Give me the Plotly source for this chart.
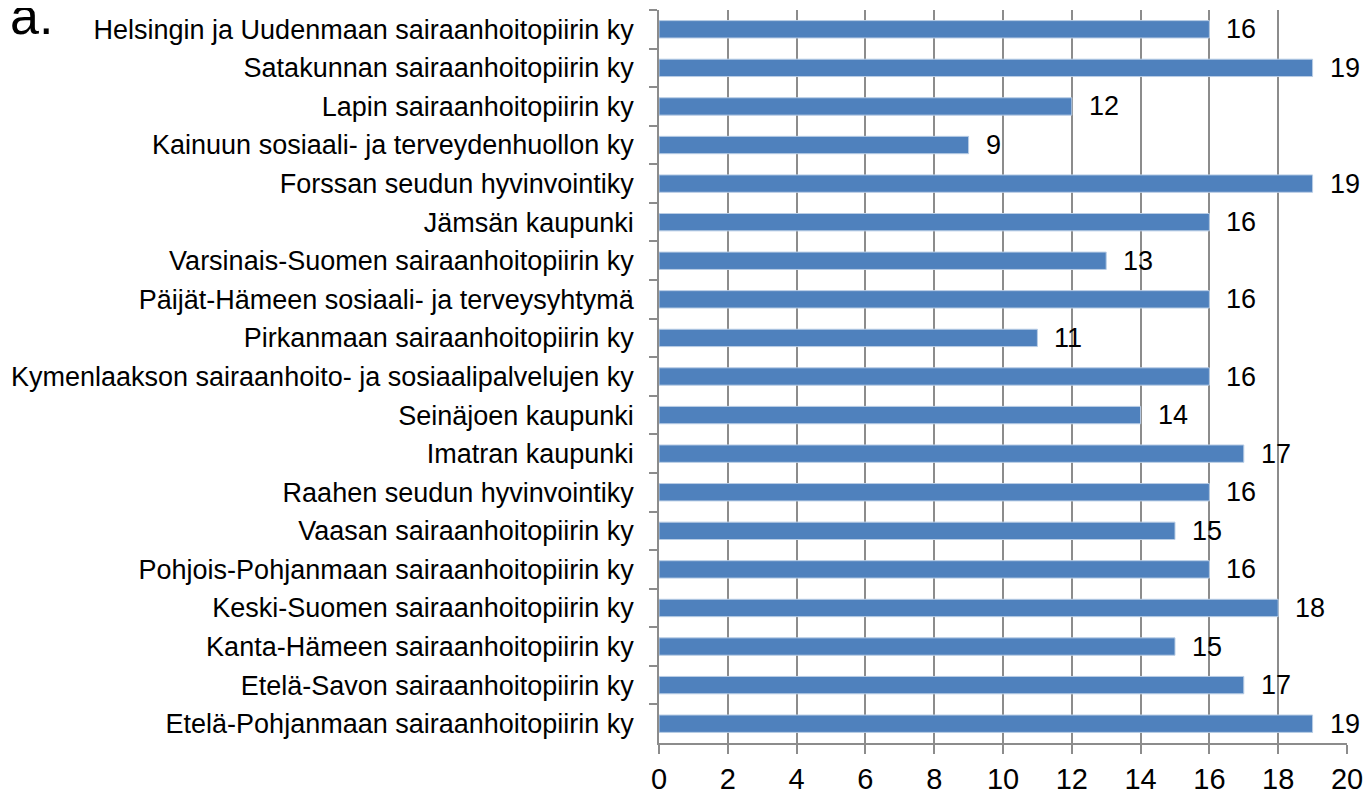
import plotly.graph_objects as go

categories = [
    "Helsingin ja Uudenmaan sairaanhoitopiirin ky",
    "Satakunnan sairaanhoitopiirin ky",
    "Lapin sairaanhoitopiirin ky",
    "Kainuun sosiaali- ja terveydenhuollon ky",
    "Forssan seudun hyvinvointiky",
    "Jämsän kaupunki",
    "Varsinais-Suomen sairaanhoitopiirin ky",
    "Päijät-Hämeen sosiaali- ja terveysyhtymä",
    "Pirkanmaan sairaanhoitopiirin ky",
    "Kymenlaakson sairaanhoito- ja sosiaalipalvelujen ky",
    "Seinäjoen kaupunki",
    "Imatran kaupunki",
    "Raahen seudun hyvinvointiky",
    "Vaasan sairaanhoitopiirin ky",
    "Pohjois-Pohjanmaan sairaanhoitopiirin ky",
    "Keski-Suomen sairaanhoitopiirin ky",
    "Kanta-Hämeen sairaanhoitopiirin ky",
    "Etelä-Savon sairaanhoitopiirin ky",
    "Etelä-Pohjanmaan sairaanhoitopiirin ky",
]
values = [16, 19, 12, 9, 19, 16, 13, 16, 11, 16, 14, 17, 16, 15, 16, 18, 15, 17, 19]
x_ticks = [0, 2, 4, 6, 8, 10, 12, 14, 16, 18, 20]

FONT = "Liberation Sans, Arial, sans-serif"

fig = go.Figure()
fig.add_trace(go.Bar(
    x=values, y=categories, orientation="h",
    marker=dict(color="#4f81bd", line=dict(color="#b9cde5", width=1)),
    width=0.45,
))

for c, v in zip(categories, values):
    fig.add_annotation(x=v, y=c, text=str(v), showarrow=False,
                       xanchor="left", xshift=15,
                       font=dict(family=FONT, size=27, color="#000"))

fig.add_annotation(xref="paper", yref="paper", x=-651 / 688, y=1.0,
                   text="ä.", showarrow=False, xanchor="left", yanchor="middle",
                   yshift=-6,
                   font=dict(family="Liberation Sans, sans-serif", size=52, color="#000"))

# page body has an 8px margin; figure sized/offset to compensate
fig.update_layout(
    width=1356, height=787,
    margin=dict(l=651, r=17, t=2, b=52),
    paper_bgcolor="white", plot_bgcolor="white",
    showlegend=False,
    font=dict(family=FONT, size=27, color="#000"),
)
fig.update_xaxes(
    range=[0, 20], tickvals=x_ticks, ticktext=[str(t) for t in x_ticks],
    showgrid=True, gridcolor="#8c8c8c", gridwidth=1.5,
    showline=True, linecolor="#8c8c8c", linewidth=1.5,
    ticks="outside", ticklen=9, tickcolor="#8c8c8c", tickwidth=1.5,
    zeroline=False, fixedrange=True, automargin=False,
    tickfont=dict(family=FONT, size=29),
)
fig.update_yaxes(
    categoryorder="array", categoryarray=categories, autorange="reversed",
    showgrid=False, showline=True, linecolor="#8c8c8c", linewidth=1.5,
    ticks="outside", ticklen=8, tickcolor="#8c8c8c", tickwidth=1.5,
    tickson="boundaries", ticklabelstandoff=18, automargin=False,
    tickfont=dict(family=FONT, size=27),
)

fig.write_html("out.html")
